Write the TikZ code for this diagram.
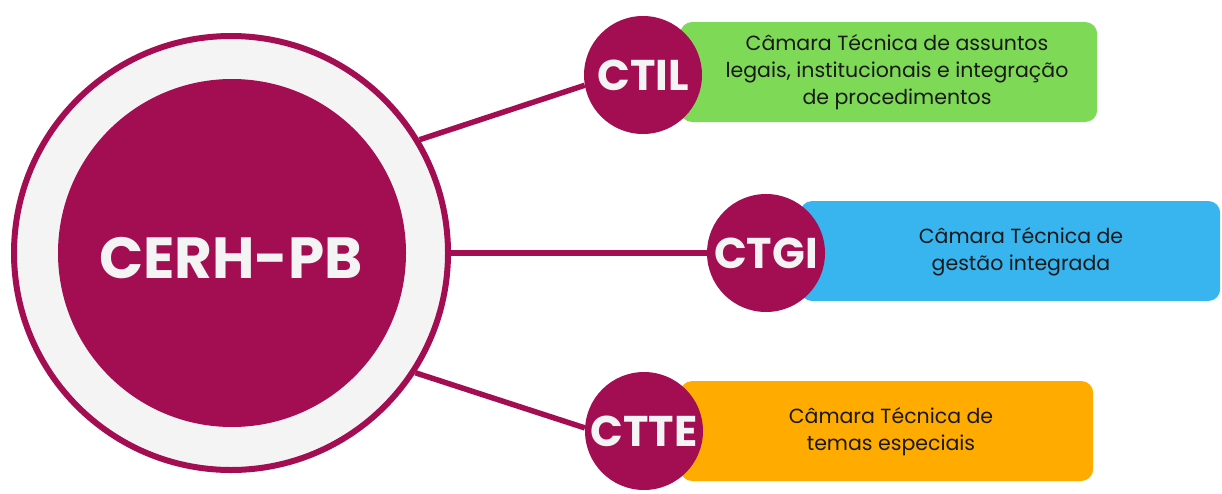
\documentclass[tikz,border=0pt]{standalone}
\usepackage{fontspec}
\setmainfont{Poppins}
\newfontfamily\lblfont{Poppins}
\definecolor{mag}{RGB}{163,13,82}
\definecolor{ringgray}{RGB}{244,244,244}
\definecolor{boxgreen}{RGB}{126,217,87}
\definecolor{boxblue}{RGB}{56,180,238}
\definecolor{boxorange}{RGB}{255,171,0}
\definecolor{txtdark}{RGB}{25,25,25}
\tikzset{
  ringstyle/.style={circle, draw=mag, line width=6pt, fill=ringgray, minimum size=434pt, inner sep=0pt},
  corestyle/.style={circle, fill=mag, minimum size=348pt, inner sep=0pt},
  bigtext/.style={text=ringgray, font=\lblfont\bfseries\fontsize{58}{62}\selectfont},
  smallcirc/.style={circle, fill=mag, minimum size=118pt, inner sep=0pt, text=ringgray, font=\lblfont\bfseries\fontsize{43}{46}\selectfont},
  infobox/.style={rectangle, rounded corners=12pt, minimum height=100pt, inner sep=0pt, anchor=west},
  infotext/.style={align=center, text=txtdark, font=\fontsize{20.5}{27}\selectfont},
  link/.style={draw=mag, line width=5.5pt}
}
\begin{document}
\begin{tikzpicture}[x=1pt,y=-1pt]
\useasboundingbox (0,0) rectangle (1222,493);
% boxes
\node[infobox, fill=boxgreen, minimum width=417pt] (b1) at (680,72) {};
\node[infobox, fill=boxblue, minimum width=420pt] (b2) at (800,251) {};
\node[infobox, fill=boxorange, minimum width=413pt] (b3) at (680,431) {};
% central circle
\node[ringstyle] (ring) at (231,253) {};
\node[corestyle] (core) at (232,253) {};
\node[bigtext] (cerh) at (231,258) {CERH-PB};
% small circles
\node[smallcirc] (ctil) at (643,75) {CTIL};
\node[smallcirc] (ctgi) at (766,253) {CTGI};
\node[smallcirc] (ctte) at (644,431) {CTTE};
% connectors
\draw[link] (ring.31) -- (ctil.190);
\draw[link] (ring.east) -- (ctgi.west);
\draw[link] (ring.-33) -- (ctte.177);
% texts
\node[infotext] (t1) at (897,72) {Câmara Técnica de assuntos\\legais, institucionais e integração\\de procedimentos};
\node[infotext] (t2) at (1021,252) {Câmara Técnica de\\gestão integrada};
\node[infotext] (t3) at (891,432) {Câmara Técnica de\\temas especiais};
\end{tikzpicture}
\end{document}
